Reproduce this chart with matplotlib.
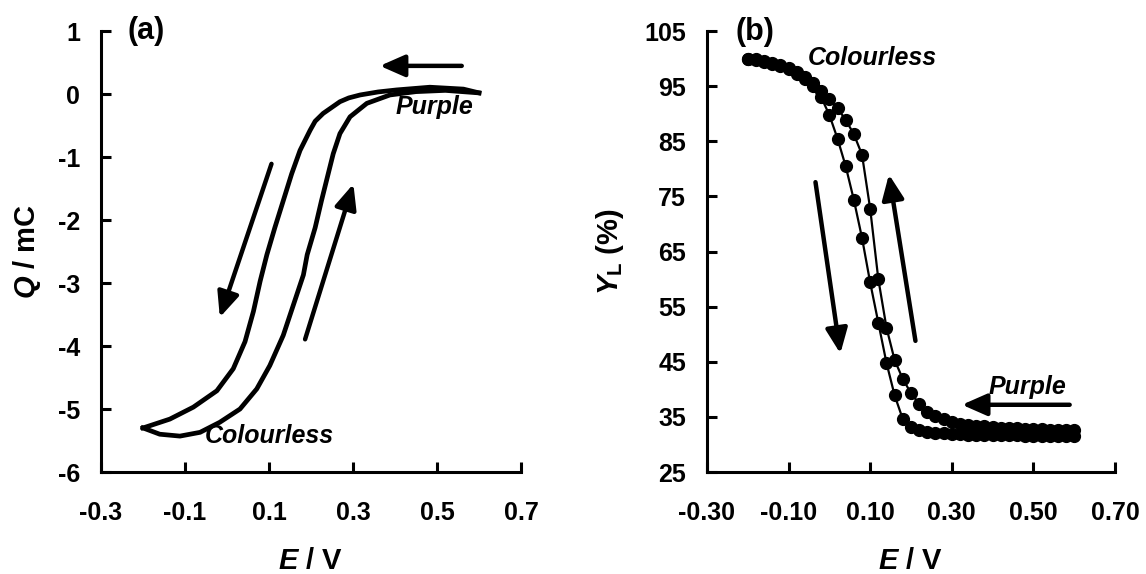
import numpy as np
import matplotlib
matplotlib.use('Agg')
from matplotlib import pyplot as plt

# (a) charge vs potential, two branches of the loop
E_down = [0.600, 0.563, 0.483, 0.404, 0.360, 0.317, 0.290, 0.269, 0.229, 0.210,
          0.198, 0.174, 0.154, 0.134, 0.114, 0.095, 0.079, 0.063, 0.043, 0.015,
          -0.024, -0.080, -0.136, -0.195, -0.200]
Q_down = [0.02, 0.08, 0.11, 0.067, 0.035, -0.013, -0.06, -0.12, -0.306, -0.43,
          -0.573, -0.893, -1.266, -1.693, -2.12, -2.55, -2.97, -3.45, -3.93, -4.36,
          -4.71, -4.97, -5.16, -5.29, -5.30]
E_up = [-0.200, -0.160, -0.112, -0.064, -0.017, 0.031, 0.071, 0.102, 0.134, 0.158,
        0.182, 0.191, 0.210, 0.225, 0.241, 0.253, 0.269, 0.293, 0.333, 0.388,
        0.450, 0.520, 0.600]
Q_up = [-5.30, -5.40, -5.43, -5.37, -5.21, -5.00, -4.68, -4.31, -3.83, -3.35,
        -2.87, -2.55, -2.12, -1.693, -1.266, -0.946, -0.626, -0.36, -0.146, -0.013,
        0.04, 0.06, 0.02]

# (b) luminance vs potential
E_b = [-0.20, -0.18, -0.16, -0.14, -0.12, -0.10, -0.08, -0.06, -0.04, -0.02,
       0.00, 0.02, 0.04, 0.06, 0.08, 0.10, 0.12, 0.14, 0.16, 0.18,
       0.20, 0.22, 0.24, 0.26, 0.28, 0.30, 0.32, 0.34, 0.36, 0.38,
       0.40, 0.42, 0.44, 0.46, 0.48, 0.50, 0.52, 0.54, 0.56, 0.58, 0.60]
YL_left = [100.0, 99.8, 99.4, 99.0, 98.6, 98.1, 97.3, 96.3, 95.1, 93.0,
           89.8, 85.5, 80.5, 74.4, 67.5, 59.4, 52.1, 44.8, 38.9, 34.6,
           33.2, 32.6, 32.3, 32.1, 32.0, 31.9, 31.9, 31.8, 31.8, 31.8,
           31.7, 31.7, 31.7, 31.7, 31.6, 31.6, 31.6, 31.6, 31.6, 31.6, 31.6]
YL_right = [100.0, 99.9, 99.6, 99.2, 98.8, 98.3, 97.6, 96.7, 95.6, 94.2,
            92.6, 91.0, 88.9, 86.3, 82.6, 72.8, 60.0, 51.2, 45.3, 41.9,
            39.3, 37.4, 35.9, 35.2, 34.6, 34.1, 33.8, 33.6, 33.4, 33.3,
            33.1, 33.0, 32.9, 32.9, 32.8, 32.8, 32.8, 32.7, 32.7, 32.7, 32.7]

xticks = [-0.3, -0.1, 0.1, 0.3, 0.5, 0.7]
xlabels_a = ['-0.3', '-0.1', '0.1', '0.3', '0.5', '0.7']
xlabels_b = ['-0.30', '-0.10', '0.10', '0.30', '0.50', '0.70']
yticks_a = [-6, -5, -4, -3, -2, -1, 0, 1]
yticks_b = [25, 35, 45, 55, 65, 75, 85, 95, 105]

plt.rcParams['font.family'] = ['Liberation Sans', 'DejaVu Sans']
plt.rcParams['font.weight'] = 'bold'
plt.rcParams['axes.labelweight'] = 'bold'
plt.rcParams['axes.unicode_minus'] = False
plt.rcParams['mathtext.fontset'] = 'custom'
plt.rcParams['mathtext.rm'] = 'Liberation Sans:bold'
plt.rcParams['mathtext.bf'] = 'Liberation Sans:bold'
plt.rcParams['mathtext.it'] = 'Liberation Sans:italic:bold'

fig = plt.figure(figsize=(11.46, 5.74), dpi=100)
ax1 = fig.add_axes([0.0881, 0.1777, 0.3665, 0.768])
ax2 = fig.add_axes([0.6169, 0.1777, 0.356, 0.768])


def style(ax):
    for s in ['top', 'right']:
        ax.spines[s].set_visible(False)
    for s in ['left', 'bottom']:
        ax.spines[s].set_linewidth(2.2)
    ax.tick_params(axis='both', direction='in', length=7.5, width=2.2, labelsize=18)
    ax.tick_params(axis='x', pad=21)
    ax.tick_params(axis='y', pad=15)


def arrow(ax, start, end):
    ax.annotate('', xy=end, xytext=start,
                arrowprops=dict(arrowstyle='-|>,head_length=0.75,head_width=0.33',
                                lw=3.2, color='k', shrinkA=0, shrinkB=0,
                                mutation_scale=20))


# 面板 (a)
style(ax1)
ax1.plot(E_down, Q_down, 'k-', lw=3.4, solid_joinstyle='round')
ax1.plot(E_up, Q_up, 'k-', lw=3.4, solid_joinstyle='round')
ax1.set_xlim(-0.3, 0.7)
ax1.set_ylim(-6, 1)
ax1.set_xticks(xticks)
ax1.set_xticklabels(xlabels_a)
ax1.set_yticks(yticks_a)
ax1.set_xlabel('$E$ / V', fontsize=21)
ax1.set_ylabel('$Q$ / mC', fontsize=21)
ax1.xaxis.set_label_coords(0.5, -0.17)
ax1.yaxis.set_label_coords(-0.138, 0.5)
ax1.text(-0.236, 1.0, '(a)', fontsize=22, va='center', ha='left')
ax1.text(0.402, -0.207, 'Purple', fontsize=18, style='italic', va='center')
ax1.text(-0.052, -5.43, 'Colourless', fontsize=18, style='italic', va='center')
arrow(ax1, (0.559, 0.449), (0.364, 0.449))
arrow(ax1, (0.106, -1.107), (-0.017, -3.544))
arrow(ax1, (0.186, -3.893), (0.301, -1.426))

# 面板 (b)
style(ax2)
ax2.plot(E_b, YL_left, 'k-', lw=1.6, marker='o', markersize=8.5)
ax2.plot(E_b, YL_right, 'k-', lw=1.6, marker='o', markersize=8.5)
ax2.set_xlim(-0.3, 0.7)
ax2.set_ylim(25, 105)
ax2.set_xticks(xticks)
ax2.set_xticklabels(xlabels_b)
ax2.set_yticks(yticks_b)
ax2.set_xlabel('$E$ / V', fontsize=21)
ax2.set_ylabel('$Y_\\mathrm{L}$ (%)', fontsize=21)
ax2.xaxis.set_label_coords(0.5, -0.17)
ax2.yaxis.set_label_coords(-0.199, 0.5)
ax2.text(-0.229, 104.9, '(b)', fontsize=22, va='center', ha='left')
ax2.text(-0.052, 100.2, 'Colourless', fontsize=18, style='italic', va='center')
ax2.text(0.391, 40.4, 'Purple', fontsize=18, style='italic', va='center')
arrow(ax2, (-0.034, 77.6), (0.027, 46.5))
arrow(ax2, (0.211, 48.8), (0.146, 79.0))
arrow(ax2, (0.589, 37.2), (0.325, 37.2))

fig.savefig('out.png', dpi=100)
